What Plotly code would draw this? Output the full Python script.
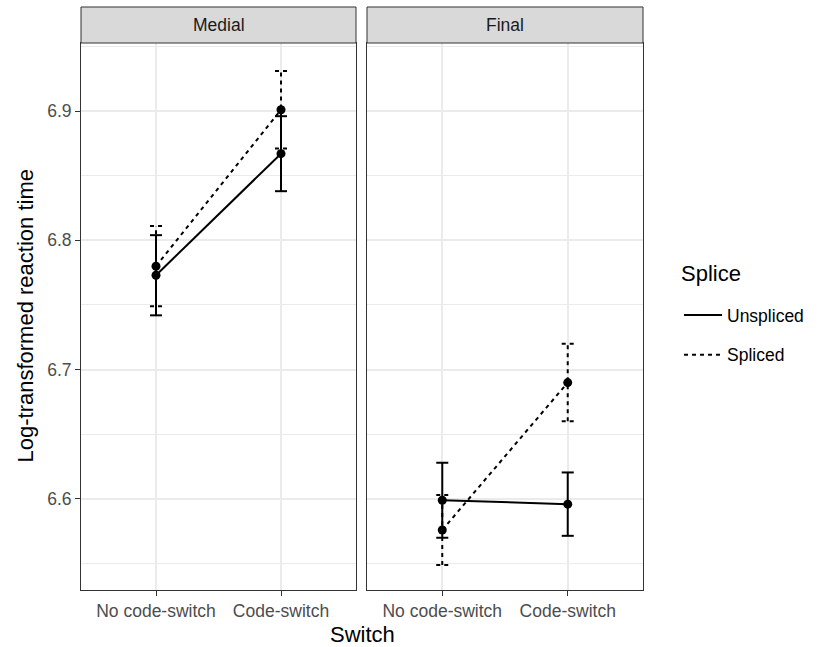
import plotly.graph_objects as go

# ---- data ----
switch_levels = ["No code-switch", "Code-switch"]
panels = ["Medial", "Final"]
splice_levels = ["Unspliced", "Spliced"]

medial_unspliced = [6.773, 6.867]
medial_unspliced_se = [0.031, 0.029]
medial_spliced = [6.780, 6.901]
medial_spliced_se = [0.031, 0.030]

final_unspliced = [6.599, 6.596]
final_unspliced_se = [0.029, 0.0245]
final_spliced = [6.576, 6.690]
final_spliced_se = [0.027, 0.030]

y_ticks = [6.6, 6.7, 6.8, 6.9]

# ---- layout constants ----
W, H = 827, 647
L, R, T, B = 81, 643, 43, 590
pw, ph = R - L, B - T
left_dom = [0, (356 - L) / pw]
right_dom = [(367 - L) / pw, 1]
CAP = 0.048  # half cap width in x units
FONT = "Liberation Sans, Arial, sans-serif"
TICK_FS = 17.5
TITLE_FS = 22
YR = [6.5296, 6.9526]

fig = go.Figure()

series = {
    "Medial": [(medial_unspliced, medial_unspliced_se, "solid"),
               (medial_spliced, medial_spliced_se, "4px,4px")],
    "Final": [(final_unspliced, final_unspliced_se, "solid"),
              (final_spliced, final_spliced_se, "4px,4px")],
}
axes = {"Medial": ("x", "y"), "Final": ("x2", "y2")}

xpos = list(range(len(switch_levels)))
for p in panels:
    xa, ya = axes[p]
    for vals, se, dash in series[p]:
        # error bars
        for xi, v, e in zip(xpos, vals, se):
            fig.add_trace(go.Scatter(x=[xi, xi], y=[v - e, v + e], mode="lines",
                                     line=dict(color="black", width=2, dash=dash),
                                     xaxis=xa, yaxis=ya, showlegend=False, hoverinfo="skip"))
            for yy in (v - e, v + e):
                fig.add_trace(go.Scatter(x=[xi - CAP, xi + CAP], y=[yy, yy], mode="lines",
                                         line=dict(color="black", width=2, dash=dash),
                                         xaxis=xa, yaxis=ya, showlegend=False, hoverinfo="skip"))
        fig.add_trace(go.Scatter(x=xpos, y=vals, mode="lines+markers",
                                 line=dict(color="black", width=2, dash=dash),
                                 marker=dict(color="black", size=9),
                                 xaxis=xa, yaxis=ya, showlegend=False))

# legend-only traces
for name, dash in zip(splice_levels, ["solid", "4px,4px"]):
    fig.add_trace(go.Scatter(x=[None], y=[None], mode="lines", name=name,
                             legendgroup=name,
                             line=dict(color="black", width=2, dash=dash),
                             xaxis="x", yaxis="y"))

grid = "#EBEBEB"
common_x = dict(range=[-0.6, 1.6], tickvals=xpos, ticktext=switch_levels,
                showgrid=True, gridcolor=grid, gridwidth=1.6, zeroline=False,
                showline=True, linecolor="#333333", linewidth=1, mirror=True,
                ticks="outside", ticklen=5, tickcolor="#333333",
                tickfont=dict(size=TICK_FS, color="#4D4D4D", family=FONT))
common_y = dict(range=YR, tickvals=y_ticks, ticktext=[f"{v:.1f}" for v in y_ticks],
                showgrid=True, gridcolor=grid, gridwidth=1.6, zeroline=False,
                showline=True, linecolor="#333333", linewidth=1, mirror=True,
                tickcolor="#333333",
                tickfont=dict(size=TICK_FS, color="#4D4D4D", family=FONT),
                minor=dict(dtick=0.05, tick0=6.55, showgrid=True, gridcolor=grid, gridwidth=0.8))

fig.update_layout(
    width=W, height=H,
    margin=dict(l=L, r=W - R, t=T, b=H - B),
    paper_bgcolor="white", plot_bgcolor="white",
    font=dict(family=FONT),
    xaxis=dict(domain=left_dom, anchor="y", **common_x),
    xaxis2=dict(domain=right_dom, anchor="y2", **common_x),
    yaxis=dict(domain=[0, 1], anchor="x", ticks="outside", ticklen=5, **common_y),
    yaxis2=dict(domain=[0, 1], anchor="x2", matches="y", ticks="", showticklabels=False, **common_y),
    showlegend=True,
    legend=dict(x=(679 - L) / pw, xanchor="left", y=(B - 335) / ph, yanchor="middle",
                font=dict(size=TICK_FS, color="black", family=FONT),
                itemwidth=38, tracegroupgap=14, bgcolor="rgba(0,0,0,0)"),
)

# legend title
fig.add_annotation(xref="paper", yref="paper", x=(679 - L) / pw, y=(B - 273) / ph, text="Splice",
                   showarrow=False, font=dict(size=TITLE_FS, color="black", family=FONT),
                   xanchor="left", yanchor="middle")

# strips
strip_top = 1 + (T - 7) / ph
for p, dom in zip(panels, [left_dom, right_dom]):
    fig.add_shape(type="rect", xref="paper", yref="paper", x0=dom[0], x1=dom[1], y0=1, y1=strip_top,
                  fillcolor="#D9D9D9", line=dict(color="#333333", width=1), layer="above")
    fig.add_annotation(xref="paper", yref="paper", x=(dom[0] + dom[1]) / 2, y=(1 + strip_top) / 2,
                       text=p, showarrow=False, font=dict(size=TICK_FS, color="#1A1A1A", family=FONT),
                       xanchor="center", yanchor="middle")

# axis titles
fig.add_annotation(xref="paper", yref="paper", x=(25 - L) / pw, y=0.5, text="Log-transformed reaction time",
                   textangle=-90, showarrow=False, font=dict(size=TITLE_FS, color="black", family=FONT),
                   xanchor="center", yanchor="middle")
fig.add_annotation(xref="paper", yref="paper", x=0.5, y=(B - 634) / ph, text="Switch",
                   showarrow=False, font=dict(size=TITLE_FS, color="black", family=FONT),
                   xanchor="center", yanchor="middle")

fig.write_html("out.html")
